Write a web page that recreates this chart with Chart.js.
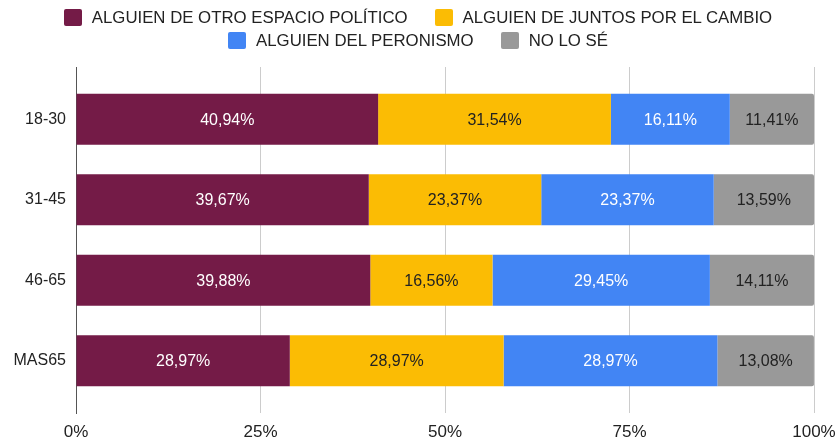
<!DOCTYPE html>
<html><head><meta charset="utf-8">
<script src="https://cdn.jsdelivr.net/npm/chart.js@4"></script>
<style>
html,body{margin:0;padding:0;background:#fff}
#wrap{position:relative;width:836px;height:443px}
#legend{position:absolute;left:0;top:6px;width:836px;font-family:'Liberation Sans',Arial,sans-serif;font-size:16.8px;color:#222;}
.row{display:flex;justify-content:center;gap:27px;height:23px;align-items:center;padding-left:0px}
.item{display:flex;align-items:center;white-space:nowrap}
.box{width:18px;height:17px;border-radius:2px;margin-right:10px}
</style>
</head><body><div id="wrap"><canvas id="c"></canvas><div id="legend"></div></div>
<script>
const categories = ["18-30", "31-45", "46-65", "MAS65"];
const seriesNames = ["ALGUIEN DE OTRO ESPACIO POLÍTICO", "ALGUIEN DE JUNTOS POR EL CAMBIO", "ALGUIEN DEL PERONISMO", "NO LO SÉ"];
const otroEspacio = [40.94, 39.67, 39.88, 28.97];
const juntosCambio = [31.54, 23.37, 16.56, 28.97];
const peronismo = [16.11, 23.37, 29.45, 28.97];
const noLoSe = [11.41, 13.59, 14.11, 13.08];
const xTicks = [0, 25, 50, 75, 100];

const colors = ["#741b47", "#fbbc04", "#4285f4", "#999999"];
const labelColors = ["#ffffff", "#222222", "#ffffff", "#222222"];
const seriesValues = [otroEspacio, juntosCambio, peronismo, noLoSe];

const fontFamily = "'Liberation Sans', Arial, sans-serif";

// HTML legend (two centred rows)
const legendRows = [[0, 1], [2, 3]];
const legendEl = document.getElementById('legend');
legendRows.forEach(r => {
  const row = document.createElement('div'); row.className = 'row';
  r.forEach(i => {
    const it = document.createElement('div'); it.className = 'item';
    const b = document.createElement('span'); b.className = 'box'; b.style.background = colors[i];
    const t = document.createElement('span'); t.textContent = seriesNames[i];
    it.appendChild(b); it.appendChild(t); row.appendChild(it);
  });
  legendEl.appendChild(row);
});

const barLabels = {
  id: 'barLabels',
  afterDatasetsDraw(chart) {
    const ctx = chart.ctx;
    ctx.save();
    ctx.font = "16px " + fontFamily;
    ctx.textAlign = 'center';
    ctx.textBaseline = 'middle';
    chart.data.datasets.forEach((ds, i) => {
      const meta = chart.getDatasetMeta(i);
      meta.data.forEach((bar, j) => {
        const v = seriesValues[i][j];
        const cx = (bar.x + bar.base) / 2;
        ctx.fillStyle = labelColors[i];
        ctx.fillText(v.toFixed(2).replace('.', ',') + '%', cx, bar.y + 1);
      });
    });
    ctx.restore();
  }
};

new Chart(document.getElementById('c'), {
  type: 'bar',
  data: {
    datasets: seriesNames.map((n, i) => ({
      label: n,
      data: seriesValues[i].map((v, j) => ({ x: v, y: j })),
      backgroundColor: colors[i],
      borderWidth: 0,
      borderRadius: i === seriesNames.length - 1 ? 2 : 0,
      borderSkipped: 'start',
      barPercentage: 0.634,
      categoryPercentage: 1.0
    }))
  },
  options: {
    indexAxis: 'y',
    responsive: true,
    maintainAspectRatio: false,
    animation: false,
    layout: { padding: { left: 0, right: 0, top: 67, bottom: 2 } },
    plugins: {
      legend: { display: false },
      tooltip: { enabled: false }
    },
    scales: {
      x: {
        type: 'linear',
        stacked: true,
        min: 0,
        max: 100,
        afterBuildTicks(axis) { axis.ticks = xTicks.map(v => ({ value: v })); },
        afterFit(axis) { axis.paddingLeft = 0; axis.paddingRight = 22; axis.height = 28; },
        ticks: {
          callback: v => v + '%',
          font: { family: fontFamily, size: 17 },
          color: '#222222',
          padding: 9
        },
        grid: { color: '#cccccc', drawTicks: false },
        border: { display: false }
      },
      y: {
        type: 'linear',
        stacked: true,
        reverse: true,
        offset: false,
        min: -0.65,
        max: 3.65,
        afterBuildTicks(axis) { axis.ticks = categories.map((c, j) => ({ value: j })); },
        afterFit(axis) { axis.width = 76; axis.paddingTop = 0; axis.paddingBottom = 0; },
        ticks: {
          callback: v => categories[v],
          font: { family: fontFamily, size: 16 },
          color: '#222222',
          padding: 10
        },
        grid: { display: false, drawTicks: false, offset: false },
        border: { display: true, color: '#555555', width: 1 }
      }
    }
  },
  plugins: [barLabels]
});
</script>
</body></html>
